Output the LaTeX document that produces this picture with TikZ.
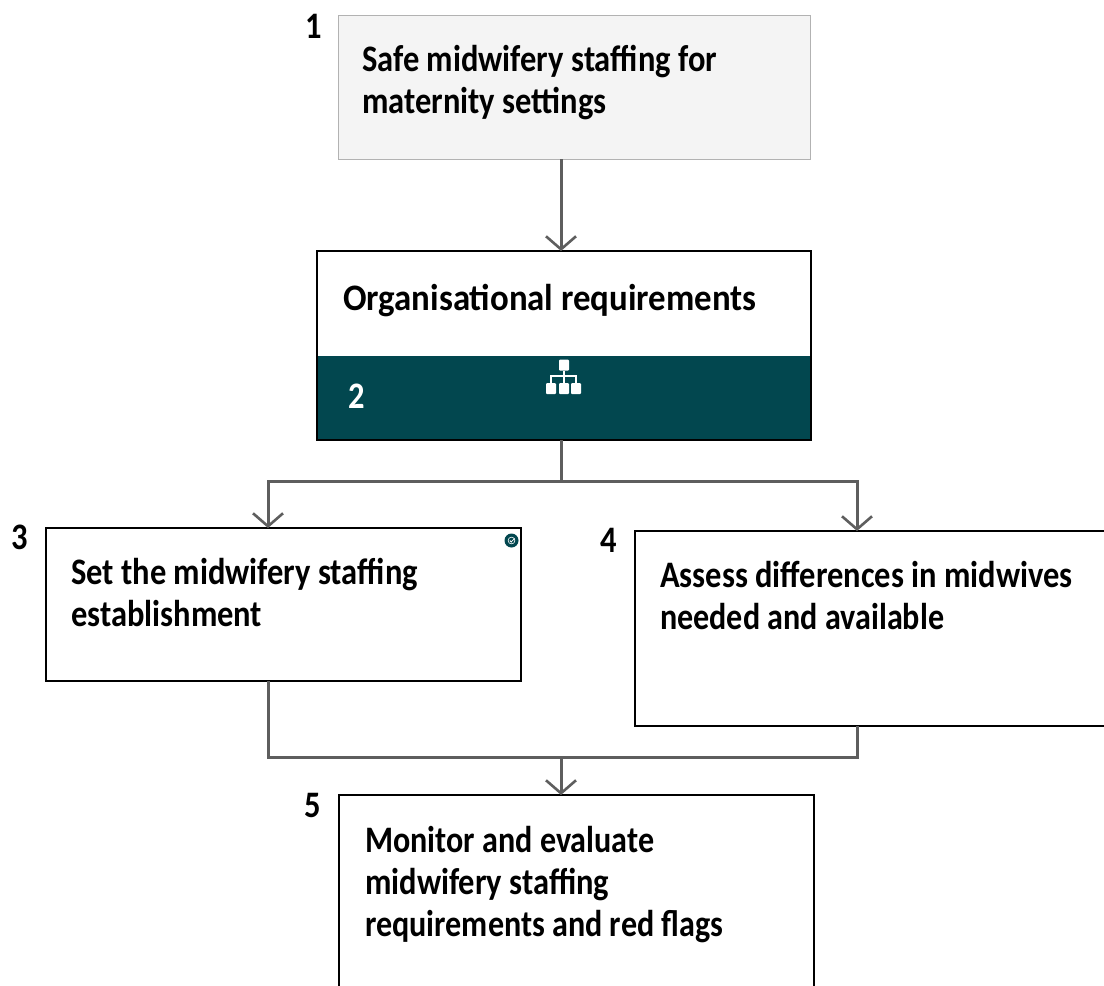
\documentclass[tikz,border=0pt]{standalone}
\usepackage{fontspec}
\setmainfont{Carlito}[BoldFont={Carlito Bold}]
\usetikzlibrary{arrows.meta}
\definecolor{tealdark}{HTML}{02474F}
\definecolor{graybox}{HTML}{F4F4F4}
\definecolor{connc}{HTML}{5E5E5E}
\newcommand{\ctext}{\fontsize{32.5}{42}\selectfont\bfseries}
\newcommand{\vs}[1]{\scalebox{1}[1.15]{#1}}
\newcommand{\vn}[1]{\scalebox{0.988}[1.15]{#1}}
\tikzset{
 px/.style={x=1pt,y=-1pt},
 rectbox/.style={rectangle,inner sep=0pt,outer sep=0pt},
 boxw/.style={rectbox,draw=black,line width=2.8pt,fill=white},
 boxg/.style={rectbox,draw=black!30,line width=0.8pt,fill=graybox},
 lab/.style={anchor=north west,inner sep=0pt,align=left,text=black,font=\ctext},
 num/.style={anchor=center,inner sep=0pt,font=\ctext},
 conn/.style={draw=connc,line width=3pt},
 arr/.style={conn,-{Straight Barb[length=13pt,width=30pt,line width=2.6pt]}},
 iconsq/.style={rectbox,fill=white,rounded corners=1pt,minimum width=10pt,minimum height=11pt},
}
\begin{document}
\begin{tikzpicture}[px]
\useasboundingbox (0,0) rectangle (1104,986);
\fill[white] (0,0) rectangle (1104,986);
% boxes
\node[boxg,minimum width=472pt,minimum height=144pt] (a) at (574,87) {};
\node[rectbox,fill=white,minimum width=494pt,minimum height=105pt] (bt) at (564,303.5) {};
\node[rectbox,fill=tealdark,minimum width=494pt,minimum height=84pt] (bb) at (564,398) {};
\node[rectbox,draw=black,line width=2.8pt,minimum width=494pt,minimum height=189pt] (b) at (564,345.5) {};
\node[boxw,minimum width=475pt,minimum height=153pt] (c) at (283.5,604.5) {};
\node[boxw,minimum width=475pt,minimum height=195pt] (d) at (872.5,628.5) {};
\node[boxw,minimum width=475pt,minimum height=205pt] (e) at (576.5,897.5) {};
% texts
\node[lab] (ta) at (362,45) {\vs{Safe midwifery staffing for}\\\vs{maternity settings}};
\node[num] (na) at (314,26) {\vs{1}};
\node[lab] (tb) at (343,284) {\scalebox{1.072}[1.15]{Organisational requirements}};
\node[num,text=white] (nb) at (357,396) {\vs{2}};
\node[lab] (tc) at (71,558) {\vs{Set the midwifery staffing}\\\vs{establishment}};
\node[num] (nc) at (20,537) {\vs{3}};
\node[lab] (td) at (660,561) {\vs{Assess differences in midwives}\\\vn{needed and available}};
\node[num] (nd) at (609,540) {\vs{4}};
\node[lab] (te) at (365,826) {\vn{Monitor and evaluate}\\\vs{midwifery staffing}\\\vn{requirements and red flags}};
\node[num] (ne) at (313,805) {\vs{5}};
% icon
\node[iconsq] (i0) at (564,365) {};
\node[iconsq] (i1) at (551,388.5) {};
\node[iconsq] (i2) at (564,388.5) {};
\node[iconsq] (i3) at (576,388.5) {};
\coordinate (im) at (564,376);
\draw[white,line width=1.8pt] (i0) -- (i2);
\draw[white,line width=1.8pt] (i1) |- (im) -| (i3);
% badge
\node[circle,fill=tealdark,minimum size=14pt,inner sep=0pt] (bd) at (511.5,540.5) {};
\draw[white,line width=0.6pt] (bd) circle (3.4pt);
\draw[white,line width=0.8pt] (509.8,540.5) -- (511.2,542) -- (514.5,538.5);
% connectors
\coordinate (j) at (561,481);
\coordinate (k) at (561,757);
\draw[arr] (j |- a.south) -- (j |- b.north);
\draw[conn] (j |- b.south) -- (j);
\coordinate (cx) at (268,604);
\coordinate (dx) at (857,604);
\draw[arr] (j) -| (cx |- c.north);
\draw[arr] (j) -| (dx |- d.north);
\draw[conn] (cx |- c.south) |- (k) -| (dx |- d.south);
\draw[arr] (k) -- (k |- e.north);
\end{tikzpicture}
\end{document}
